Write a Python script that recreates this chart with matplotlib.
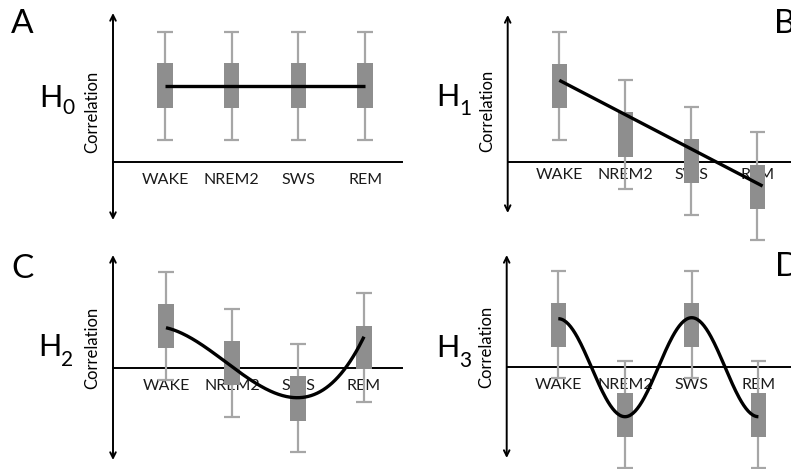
import numpy as np
import matplotlib
matplotlib.use("Agg")
import matplotlib.pyplot as plt

plt.rcParams['font.family'] = ['Lato', 'DejaVu Sans']

W, H = 791, 469

categories = ["WAKE", "NREM2", "SWS", "REM"]

# box plot values per panel (correlation, arbitrary units, 0 = horizontal axis)
whisk_hi_a = [130, 130, 130, 130]
box_hi_a = [99, 99, 99, 99]
box_lo_a = [54, 54, 54, 54]
whisk_lo_a = [22, 22, 22, 22]
model_a = [76, 76, 76, 76]

whisk_hi_b = [130, 82, 55, 30]
box_hi_b = [98, 50, 23, -3]
box_lo_b = [54, 5, -21, -47]
whisk_lo_b = [22, -27, -53, -78]
model_b = [82, -21]          # linear trend at WAKE and REM

whisk_hi_c = [96, 59, 24, 75]
box_hi_c = [64, 27, -8, 42]
box_lo_c = [20, -17, -53, -1]
whisk_lo_c = [-12, -49, -84, -34]
model_c = [40, 1, -30, 31]   # quadratic-like curve

whisk_hi_d = [96, 6, 96, 6]
box_hi_d = [64, -26, 64, -26]
box_lo_d = [20, -70, 20, -70]
whisk_lo_d = [-11, -101, -11, -101]
model_d = [48, -50, 49, -50]  # oscillating curve

panels = [
    # letter, hyp, data, model kind, layout (px)
    dict(letter="A", hyp="0", data=(whisk_hi_a, box_hi_a, box_lo_a, whisk_lo_a), model=model_a, kind="flat",
         quad=(0, 0, 395, 230), wake_x=165, sp=66.7, axis_y=161.7, vx=113, arr=(13, 220), right=402,
         lab_off=18, letter_xy=(11, 33), h_xy=(39, 107), sub_dy=7, corr_xy=(92, 112)),
    dict(letter="B", hyp="1", data=(whisk_hi_b, box_hi_b, box_lo_b, whisk_lo_b), model=model_b, kind="line",
         quad=(395, 0, 396, 230), wake_x=559.3, sp=66, axis_y=162.3, vx=507.7, arr=(15, 213), right=791,
         lab_off=13, letter_xy=(774, 33), h_xy=(436, 106), sub_dy=9, corr_xy=(487, 111)),
    dict(letter="C", hyp="2", data=(whisk_hi_c, box_hi_c, box_lo_c, whisk_lo_c), model=model_c, kind="cubic",
         quad=(0, 230, 395, 239), wake_x=166, sp=66, axis_y=367.7, vx=113, arr=(255, 460), right=402,
         lab_off=18, letter_xy=(11, 278), h_xy=(38, 356), sub_dy=10, corr_xy=(92, 348)),
    dict(letter="D", hyp="3", data=(whisk_hi_d, box_hi_d, box_lo_d, whisk_lo_d), model=model_d, kind="cos",
         quad=(395, 230, 396, 239), wake_x=558.3, sp=66.7, axis_y=366.7, vx=506.7, arr=(255, 458), right=791,
         lab_off=18, letter_xy=(775, 276), h_xy=(436, 357), sub_dy=10, corr_xy=(486, 347)),
]

box_color = "#8e8e8e"
whisk_color = "#a6a6a6"

fig = plt.figure(figsize=(W / 100, H / 100), dpi=100)


def fx(px):
    return px / W


def fy(py):
    return 1 - py / H


def model_curve(vals, kind):
    if kind == "flat":
        xs = np.array([0, 3])
        return xs, np.array([vals[0], vals[-1]])
    if kind == "line":
        coef = np.polyfit([0, 3], vals, 1)
        xs = np.array([0, 3.08])
        return xs, np.polyval(coef, xs)
    if kind == "cubic":
        coef = np.polyfit(np.arange(len(vals)), vals, 3)
        xs = np.linspace(0, 3, 200)
        return xs, np.polyval(coef, xs)
    # cosine easing between successive values -> extremum at each category
    xs, ys = [], []
    for i in range(len(vals) - 1):
        t = np.linspace(0, 1, 60)
        xs.append(i + t)
        ys.append(vals[i] + (vals[i + 1] - vals[i]) * (1 - np.cos(np.pi * t)) / 2)
    return np.concatenate(xs), np.concatenate(ys)


for p in panels:
    L, T, Wp, Hp = p["quad"]
    ax = fig.add_axes([fx(L), fy(T + Hp), Wp / W, Hp / H])
    ax.set_xlim((L - p["wake_x"]) / p["sp"], (L + Wp - p["wake_x"]) / p["sp"])
    ax.set_ylim(p["axis_y"] - (T + Hp), p["axis_y"] - T)
    ax.axis("off")

    x = np.arange(len(categories))
    whi, bhi, blo, wlo = [np.array(v) for v in p["data"]]

    # axes drawn as arrows / lines
    vx = (p["vx"] - p["wake_x"]) / p["sp"]
    right = (p["right"] - p["wake_x"]) / p["sp"]
    ax.plot([vx, right], [0, 0], color="black", lw=1.4, zorder=1, clip_on=False)
    ax.annotate("", xy=(vx, p["axis_y"] - p["arr"][0]), xytext=(vx, p["axis_y"] - p["arr"][1]),
                arrowprops=dict(arrowstyle="<->", color="black", lw=1.4, mutation_scale=10,
                                shrinkA=0, shrinkB=0), annotation_clip=False)

    # category labels (sit under the boxes)
    for xi, name in zip(x, categories):
        ax.text(xi, -p["lab_off"], name, ha="center", va="center", fontsize=11.5,
                color="#1a1a1a", zorder=0.5, clip_on=False)

    # whiskers and caps
    cap = 0.115
    ax.vlines(x, wlo, whi, color=whisk_color, lw=1.6, zorder=1.5, clip_on=False)
    ax.hlines(whi, x - cap, x + cap, color=whisk_color, lw=1.6, zorder=1.5, clip_on=False)
    ax.hlines(wlo, x - cap, x + cap, color=whisk_color, lw=1.6, zorder=1.5, clip_on=False)

    # boxes
    ax.bar(x, bhi - blo, bottom=blo, width=0.23, color=box_color, zorder=2, clip_on=False)

    # model curve
    cx, cy = model_curve(p["model"], p["kind"])
    ax.plot(cx, cy, color="black", lw=2.4, zorder=4, solid_capstyle="butt", clip_on=False)

    # text labels
    fig.text(fx(p["letter_xy"][0]), fy(p["letter_xy"][1]), p["letter"], fontsize=24,
             ha="left", va="baseline")
    fig.text(fx(p["h_xy"][0]), fy(p["h_xy"][1]), "H", fontsize=22, ha="left", va="baseline")
    fig.text(fx(p["h_xy"][0] + 23), fy(p["h_xy"][1] + p["sub_dy"]), p["hyp"], fontsize=15,
             ha="left", va="baseline")
    fig.text(fx(p["corr_xy"][0]), fy(p["corr_xy"][1]), "Correlation", fontsize=12,
             rotation=90, ha="center", va="center")

fig.savefig("out.png", dpi=100)
